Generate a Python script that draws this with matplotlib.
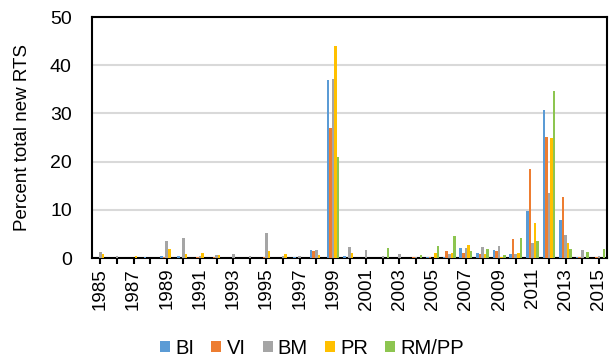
import matplotlib.pyplot as plt
import numpy as np

plt.rcParams['font.family'] = ['Liberation Sans', 'DejaVu Sans']

years = list(range(1985, 2016))

# percent of total new RTS per year
bi = [0, 0, 0, 0.3, 0.5, 0.5, 0, 0, 0, 0, 0.1, 0, 0.3, 1.7, 36.9, 0.5,
      0, 0, 0, 0, 0.2, 0.3, 2.1, 1.1, 1.7, 0.75, 9.7, 30.8, 8.0, 0.3, 0]
vi = [0, 0, 0, 0, 0.3, 0, 0.3, 0.2, 0, 0, 0.3, 0, 0, 1.5, 26.9, 0,
      0, 0, 0, 0.2, 0.2, 1.45, 1.0, 0.9, 1.5, 4.0, 18.4, 25.2, 12.7, 0.3, 0.3]
bm = [1.3, 0.4, 0, 0, 3.65, 4.15, 0.5, 0.6, 0.75, 0.5, 5.2, 0.5, 0.5, 1.7, 37.1, 2.2,
      1.7, 0.5, 0.75, 0.2, 0.1, 0.9, 2.0, 2.3, 2.5, 0.75, 3.2, 13.5, 4.8, 1.7, 0.5]
pr = [0.8, 0.1, 0.5, 0, 1.8, 0.8, 1.1, 0.6, 0, 0, 1.4, 0.8, 0, 0.7, 44.0, 1.0,
      0, 0, 0, 0, 1.1, 1.1, 2.7, 0.75, 0.25, 1.0, 7.3, 25.0, 3.2, 0, 0]
rmpp = [0, 0, 0, 0, 0, 0, 0, 0, 0, 0, 0, 0, 0, 0, 20.9, 0,
        0, 2.1, 0, 0.6, 2.6, 4.6, 1.5, 1.85, 0.6, 4.15, 3.6, 34.6, 1.9, 1.3, 1.9]

series = [('BI', bi, '#5B9BD5'), ('VI', vi, '#ED7D31'), ('BM', bm, '#A5A5A5'),
          ('PR', pr, '#FFC000'), ('RM/PP', rmpp, '#8DC550')]

fig = plt.figure(figsize=(6.09, 3.56), dpi=100)
ax = fig.add_axes([0.151, 0.275, 0.846, 0.677])

x = np.arange(len(years))
w = 0.155
for i, (name, vals, col) in enumerate(series):
    ax.bar(x + (i - 2) * w, vals, w, color=col, label=name, zorder=3)

ax.set_xlim(-0.5, len(years) - 0.5)
ax.set_ylim(0, 50)
ax.set_yticks(range(0, 51, 10))
ax.set_xticks(x)
ax.set_xticklabels([str(y) if i % 2 == 0 else '' for i, y in enumerate(years)],
                   rotation=90, fontsize=13.5)
ax.tick_params(axis='x', length=4, width=1.5, color='black', pad=3)
ax.tick_params(axis='y', length=0, labelsize=14, pad=14.5)
ax.grid(axis='y', color='#D9D9D9', linewidth=1.5, zorder=0)
for s in ax.spines.values():
    s.set_linewidth(1.5)
    s.set_color('black')
ax.set_ylabel('Percent total new RTS', fontsize=13.5, labelpad=14)

fig.legend(loc='center', bbox_to_anchor=(312 / 609, 1 - 348 / 356), ncol=5,
           frameon=False, fontsize=14.5, handlelength=0.5, handleheight=0.5,
           handletextpad=0.25, columnspacing=0.85)

fig.savefig('out.png', dpi=100)
